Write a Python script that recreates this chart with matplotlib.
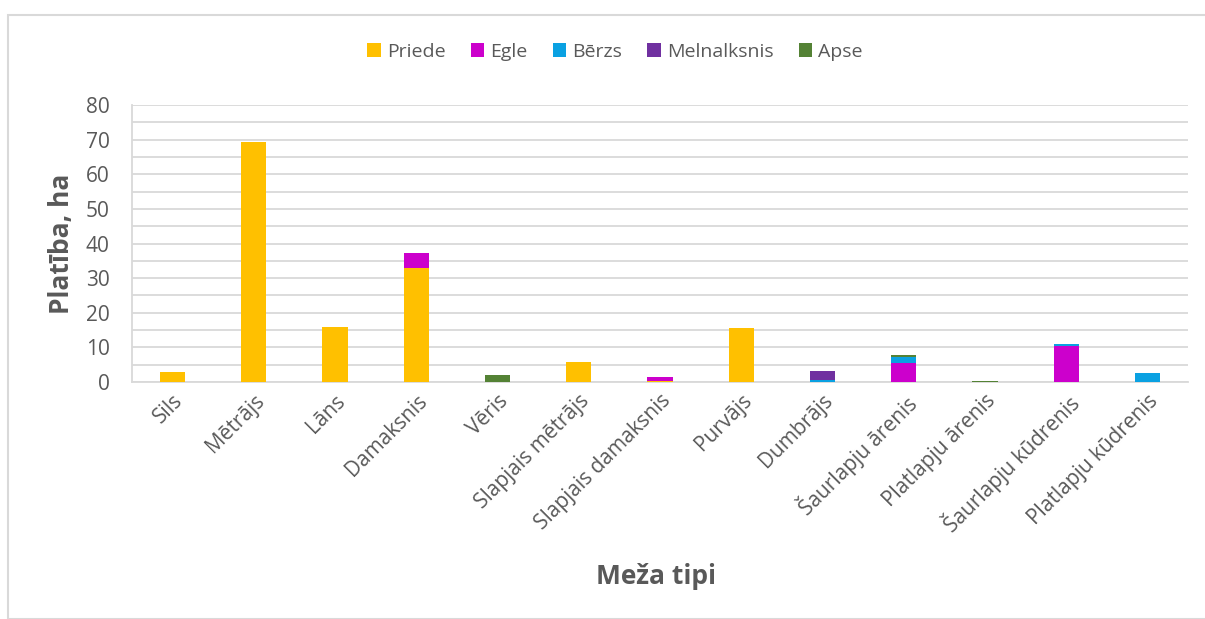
import numpy as np
import matplotlib.pyplot as plt
from matplotlib.patches import Rectangle

plt.rcParams['font.family'] = ['Open Sans', 'DejaVu Sans']

categories = ['Sils', 'Mētrājs', 'Lāns', 'Damaksnis', 'Vēris', 'Slapjais mētrājs',
              'Slapjais damaksnis', 'Purvājs', 'Dumbrājs', 'Šaurlapju ārenis',
              'Platlapju ārenis', 'Šaurlapju kūdrenis', 'Platlapju kūdrenis']
priede = [2.8, 69.3, 15.9, 32.9, 0, 5.8, 0.2, 15.5, 0, 0, 0, 0, 0]
egle = [0, 0, 0, 4.3, 0, 0, 1.3, 0, 0, 5.4, 0, 10.5, 0]
berzs = [0, 0, 0, 0, 0, 0, 0, 0, 0.6, 1.7, 0, 0.4, 2.5]
melnalksnis = [0, 0, 0, 0, 0, 0, 0, 0, 2.6, 0, 0, 0, 0]
apse = [0, 0, 0, 0, 1.9, 0, 0, 0, 0, 0.7, 0.4, 0, 0]

series = [('Priede', priede, '#FFC000'),
          ('Egle', egle, '#CC00CC'),
          ('Bērzs', berzs, '#0AA1E2'),
          ('Melnalksnis', melnalksnis, '#7030A0'),
          ('Apse', apse, '#548235')]

txt = '#595959'
grid = '#d9d9d9'

fig = plt.figure(figsize=(12.05, 6.19), dpi=100)
ax = fig.add_axes([132 / 1205, 1 - 382 / 619, 1056 / 1205, 277 / 619])

# chart border
fig.patches.append(Rectangle((8 / 1205, 0), 1.0, 1 - 15 / 619, transform=fig.transFigure,
                             fill=False, edgecolor=grid, linewidth=1.5))

x = np.arange(len(categories))
bottom = np.zeros(len(categories))
for name, vals, col in series:
    vals = np.array(vals)
    ax.bar(x, vals, 0.31, bottom=bottom, color=col, label=name, zorder=3)
    bottom += vals

ax.set_xlim(-0.5, len(categories) - 0.5)
ax.set_ylim(0, 80)
ax.set_yticks(np.arange(0, 81, 10))
ax.set_yticks(np.arange(0, 81, 5), minor=True)
ax.grid(axis='y', which='both', color=grid, linewidth=1.3, zorder=0)
ax.tick_params(axis='y', which='both', length=0, labelsize=15, labelcolor=txt, pad=16)
ax.tick_params(axis='x', length=0, labelsize=15, labelcolor=txt, pad=6)
ax.set_xticks(x)
ax.set_xticklabels(categories, rotation=45, ha='right', rotation_mode='anchor')

for s in ['top', 'right']:
    ax.spines[s].set_visible(False)
ax.spines['left'].set_color(grid)
ax.spines['bottom'].set_color(grid)
ax.spines['left'].set_linewidth(1.3)
ax.spines['bottom'].set_linewidth(1.3)

ax.set_ylabel('Platība, ha', fontsize=19, fontweight='bold', color=txt, labelpad=8)
fig.text(656 / 1205, 1 - 577 / 619, 'Meža tipi', fontsize=19, fontweight='bold',
         color=txt, ha='center', va='center')

fig.legend(loc='center', bbox_to_anchor=(615 / 1205, 1 - 52 / 619), ncol=5, frameon=False,
           fontsize=14, labelcolor=txt, handlelength=0.7, handleheight=0.7,
           handletextpad=0.3, columnspacing=1.3)

fig.savefig('out.png', dpi=100, facecolor='white')
